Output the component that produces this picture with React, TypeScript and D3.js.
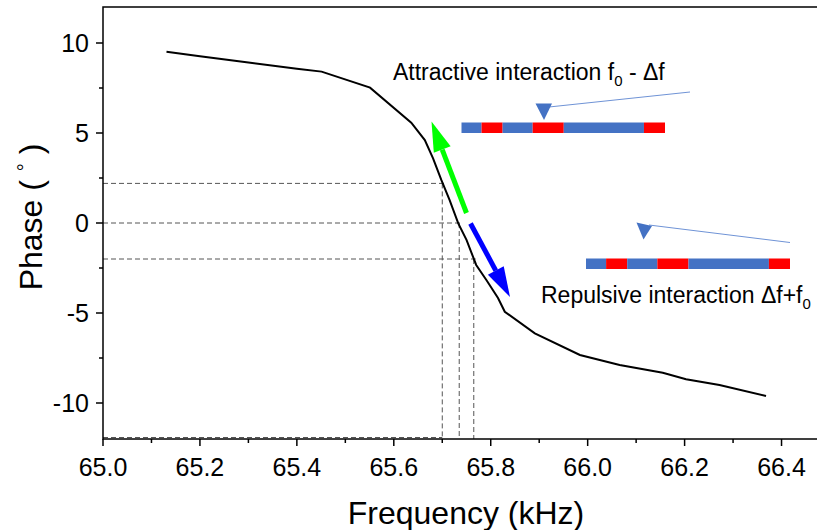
import React, { useEffect, useRef } from "react";
import * as d3 from "d3";

// phase response
const freq = [65.131, 65.2, 65.3, 65.4, 65.451, 65.551, 65.636, 65.664, 65.681, 65.698, 65.715, 65.733, 65.75, 65.77, 65.791, 65.815, 65.829, 65.891, 65.984, 66.066, 66.155, 66.203, 66.272, 66.368];
const phase = [9.52, 9.27, 8.92, 8.57, 8.41, 7.52, 5.57, 4.61, 3.59, 2.39, 1.28, -0.02, -0.94, -2.33, -3.17, -4.17, -4.93, -6.13, -7.33, -7.89, -8.32, -8.68, -9.0, -9.61];

const markerFreqs = [65.7, 65.735, 65.765];
const markerPhases = [2.2, 0, -2.0];

const xTicks = [65.0, 65.2, 65.4, 65.6, 65.8, 66.0, 66.2, 66.4];
const xMinor = [65.1, 65.3, 65.5, 65.7, 65.9, 66.1, 66.3, 66.5];
const yTicks = [-10, -5, 0, 5, 10];
const yMinor = [-7.5, -2.5, 2.5, 7.5];

// cantilever bar segments (relative lengths), blue / red
const barSegs = [
  { w: 20, c: "#4472c4" },
  { w: 21, c: "#ff0000" },
  { w: 30, c: "#4472c4" },
  { w: 31, c: "#ff0000" },
  { w: 80, c: "#4472c4" },
  { w: 21, c: "#ff0000" },
];

const W = 817;
const H = 530;

export default function App() {
  const svgRef = useRef<SVGSVGElement>(null);

  useEffect(() => {
    const svg = d3.select(svgRef.current);
    svg.selectAll("*").remove();
    const font = "'Liberation Sans', Arial, sans-serif";

    const x = d3.scaleLinear().domain([65, 66.5]).range([103, 830]);
    const y = d3.scaleLinear().domain([-12, 12]).range([439, 7]);

    // dashed guide lines
    const g = svg.append("g").attr("stroke", "#555").attr("stroke-width", 1).attr("stroke-dasharray", "5,3").attr("fill", "none");
    markerPhases.forEach((p, i) => {
      g.append("line").attr("x1", x(65)).attr("x2", x(markerFreqs[i]) + 2).attr("y1", y(p)).attr("y2", y(p));
      g.append("line").attr("x1", x(markerFreqs[i])).attr("x2", x(markerFreqs[i])).attr("y1", y(p)).attr("y2", y(-12));
    });
    g.append("line").attr("x1", x(65)).attr("x2", x(markerFreqs[0])).attr("y1", y(-12) - 1.5).attr("y2", y(-12) - 1.5);

    // curve
    const pts: [number, number][] = freq.map((f, i) => [f, phase[i]]);
    const line = d3.line<[number, number]>().x((d) => x(d[0])).y((d) => y(d[1]));
    svg.append("path").attr("d", line(pts)).attr("fill", "none").attr("stroke", "#000").attr("stroke-width", 2);

    // frame
    svg.append("rect").attr("x", x(65)).attr("y", y(12)).attr("width", x(66.5) - x(65)).attr("height", y(-12) - y(12))
      .attr("fill", "none").attr("stroke", "#000").attr("stroke-width", 1.5);

    // ticks
    const ax = svg.append("g").attr("stroke", "#000").attr("stroke-width", 1.5);
    xTicks.forEach((t) => ax.append("line").attr("x1", x(t)).attr("x2", x(t)).attr("y1", y(-12)).attr("y2", y(-12) + 7));
    xMinor.forEach((t) => ax.append("line").attr("x1", x(t)).attr("x2", x(t)).attr("y1", y(-12)).attr("y2", y(-12) + 4));
    yTicks.forEach((t) => ax.append("line").attr("x1", x(65) - 7).attr("x2", x(65)).attr("y1", y(t)).attr("y2", y(t)));
    yMinor.forEach((t) => ax.append("line").attr("x1", x(65) - 4).attr("x2", x(65)).attr("y1", y(t)).attr("y2", y(t)));

    svg.append("g").selectAll("text").data(xTicks).enter().append("text")
      .attr("x", (d) => x(d)).attr("y", y(-12) + 37).attr("text-anchor", "middle")
      .attr("font-family", font).attr("font-size", 25).text((d) => d.toFixed(1));
    svg.append("g").selectAll("text").data(yTicks).enter().append("text")
      .attr("x", x(65) - 14).attr("y", (d) => y(d) + 9).attr("text-anchor", "end")
      .attr("font-family", font).attr("font-size", 25).text((d) => String(d));

    svg.append("text").attr("x", 466).attr("y", 524).attr("text-anchor", "middle")
      .attr("font-family", font).attr("font-size", 32).text("Frequency (kHz)");
    const yl = svg.append("text").attr("transform", "translate(42,217) rotate(-90)").attr("text-anchor", "middle")
      .attr("font-family", font).attr("font-size", 32);
    yl.append("tspan").text("Phase ( ");
    yl.append("tspan").attr("font-size", 20).attr("dy", -10).text("°");
    yl.append("tspan").attr("dy", 10).text(" )");

    // arrows
    const arrow = (x1: number, y1: number, x2: number, y2: number, color: string) => {
      const ang = Math.atan2(y2 - y1, x2 - x1);
      const hl = 30, hw = 9;
      const bx = x2 - hl * Math.cos(ang), by = y2 - hl * Math.sin(ang);
      svg.append("line").attr("x1", x1).attr("y1", y1).attr("x2", bx).attr("y2", by)
        .attr("stroke", color).attr("stroke-width", 5);
      const px = -Math.sin(ang) * hw, py = Math.cos(ang) * hw;
      svg.append("path").attr("d", `M${x2},${y2}L${bx + px},${by + py}L${bx - px},${by - py}Z`).attr("fill", color);
    };
    arrow(466.5, 213, 431.5, 121.5, "#00ff00");
    arrow(470.5, 223.5, 510, 297, "#0000ff");

    // cantilever schematics
    const bar = (x0: number, y0: number, len: number) => {
      const total = d3.sum(barSegs, (s) => s.w);
      const sx = d3.scaleLinear().domain([0, total]).range([x0, x0 + len]);
      let acc = 0;
      barSegs.forEach((s) => {
        svg.append("rect").attr("x", sx(acc)).attr("y", y0).attr("width", sx(acc + s.w) - sx(acc)).attr("height", 10.5).attr("fill", s.c);
        acc += s.w;
      });
    };
    bar(461.5, 122.5, 203.5);
    bar(586, 258.5, 204);

    svg.append("line").attr("x1", 549).attr("y1", 107).attr("x2", 690).attr("y2", 92).attr("stroke", "#6f93d6").attr("stroke-width", 1);
    svg.append("path").attr("d", "M535.5,103.5L552,103.5L544,120Z").attr("fill", "#4472c4");
    svg.append("line").attr("x1", 649).attr("y1", 225).attr("x2", 790).attr("y2", 242.5).attr("stroke", "#6f93d6").attr("stroke-width", 1);
    svg.append("path").attr("d", "M636.5,222.5L652,226L643.5,239.5Z").attr("fill", "#4472c4");

    // annotation texts
    const t1 = svg.append("text").attr("x", 393).attr("y", 80).attr("font-family", font).attr("font-size", 23);
    t1.append("tspan").text("Attractive interaction f");
    t1.append("tspan").attr("font-size", 15).attr("dy", 6).text("0");
    t1.append("tspan").attr("dy", -6).text(" - Δf");
    const t2 = svg.append("text").attr("x", 541).attr("y", 303).attr("font-family", font).attr("font-size", 23);
    t2.append("tspan").text("Repulsive interaction Δf+f");
    t2.append("tspan").attr("font-size", 15).attr("dy", 6).text("0");
  }, []);

  return (
    <div style={{ position: "absolute", left: 0, top: 0 }}>
      <svg ref={svgRef} width={W} height={H} style={{ display: "block", background: "#fff" }}></svg>
    </div>
  );
}
